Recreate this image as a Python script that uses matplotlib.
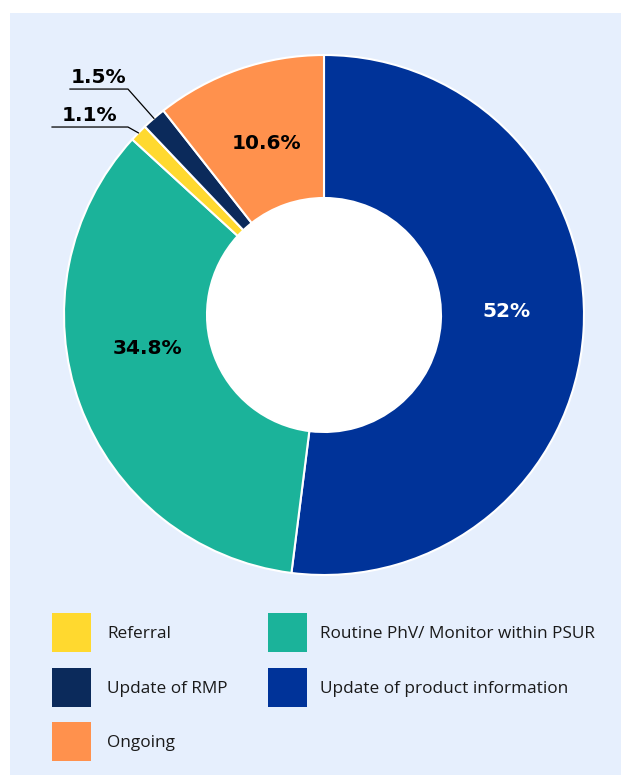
import matplotlib
matplotlib.use('Agg')
import matplotlib.pyplot as plt
from matplotlib.patches import Rectangle, Circle
import numpy as np

# datos (en orden horario desde arriba)
categorias = ['Update of product information', 'Routine PhV/ Monitor within PSUR',
              'Referral', 'Update of RMP', 'Ongoing']
valores = [52.0, 34.8, 1.1, 1.5, 10.6]
etiquetas = ['52%', '34.8%', '1.1%', '1.5%', '10.6%']
colores = ['#003399', '#1bb39a', '#ffd92f', '#0b2a5b', '#ff914d']

# orden de la leyenda
orden_leyenda = ['Referral', 'Update of RMP', 'Ongoing',
                 'Routine PhV/ Monitor within PSUR', 'Update of product information']

W, H = 621, 776
fig = plt.figure(figsize=(W / 100, H / 100), dpi=100)
fig.patch.set_facecolor('white')
fig.patches.append(Rectangle((10 / W, 1 / H), 1 - 10 / W, (775 - 13) / H,
                             transform=fig.transFigure, facecolor='#e6effd',
                             edgecolor='none', zorder=-5))

cx, cy, r = 324, 315, 260
ax = fig.add_axes([(cx - r) / W, (H - cy - r) / H, 2 * r / W, 2 * r / H])
ax.set_zorder(2)

wedges, _ = ax.pie(valores, colors=colores, startangle=90, counterclock=False,
                   radius=1, wedgeprops=dict(width=0.55, edgecolor='white', linewidth=1.5))
ax.add_patch(Circle((0, 0), 0.45, facecolor='white', edgecolor='none'))
ax.set_xlim(-1, 1)
ax.set_ylim(-1, 1)
ax.set_aspect('equal')
ax.axis('off')

# angulos centrales de cada porcion
angs = []
a = 90
for v in valores:
    angs.append(a - v * 3.6 / 2)
    a -= v * 3.6

# etiquetas grandes dentro del anillo
pos = {0: (0.70, 0.015), 1: (-0.68, -0.13), 4: (-0.22, 0.66)}
for i, (x, y) in pos.items():
    col = 'white' if i == 0 else 'black'
    ax.text(x, y, etiquetas[i], ha='center', va='center', fontsize=14.5,
            fontweight='bold', color=col)

# etiquetas pequenas con lineas guia
guias = {3: (-0.754, 0.869, -0.977), 2: (-0.754, 0.723, -1.046)}
for i, (ex, ey, x0) in guias.items():
    t = np.deg2rad(angs[i])
    px, py = np.cos(t), np.sin(t)
    ax.plot([px, ex, x0], [py, ey, ey], color='black', lw=0.9, clip_on=False)
    ax.text((ex + x0) / 2, ey + 0.008, etiquetas[i], ha='center', va='bottom',
            fontsize=14.5, fontweight='bold', color='black')

# leyenda manual
cols_x = [(52, 107), (268, 320)]
filas_y = [632, 687, 741]
for k, nombre in enumerate(orden_leyenda):
    c = 0 if k < 3 else 1
    f = k if k < 3 else k - 3
    sx, tx = cols_x[c]
    yy = filas_y[f]
    color = colores[categorias.index(nombre)]
    fig.patches.append(Rectangle((sx / W, (H - yy - 19.5) / H), 39 / W, 39 / H,
                                 transform=fig.transFigure, facecolor=color,
                                 edgecolor='none'))
    fig.text(tx / W, (H - yy - 2) / H, nombre, ha='left', va='center', fontsize=12.4,
             family='Open Sans', color='#1a1a1a')

fig.savefig('out.png', dpi=100)
